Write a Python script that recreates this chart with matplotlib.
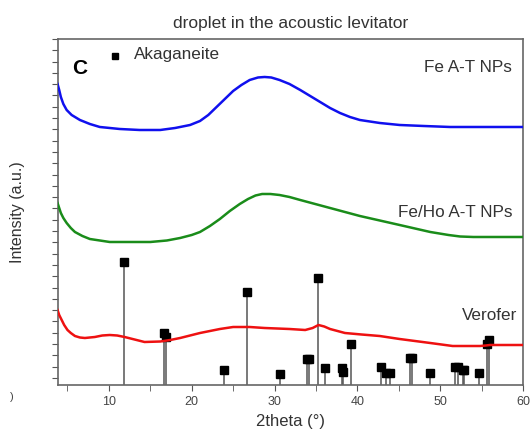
import numpy as np
import matplotlib
matplotlib.use("Agg")
import matplotlib.pyplot as plt

plt.rcParams["font.family"] = ["Liberation Sans", "DejaVu Sans"]

# courbes DRX (2theta, intensite en u.a.)
fe_x = [3.8, 4.0, 4.2, 4.5, 4.9, 5.5, 6.5, 7.7, 8.9, 10.1, 11.3, 13.7, 16.2, 18.0,
        19.8, 21.0, 22.0, 23.0, 24.0, 25.0, 26.0, 27.0, 28.0, 28.8, 29.6, 30.6,
        31.8, 33.1, 34.3, 35.5, 36.7, 37.9, 39.1, 40.3, 42.7, 45.1, 48.0, 51.2, 60.0]
fe_y = [301, 295, 288, 281, 275, 270, 265, 261, 258, 257, 256, 255, 255, 257,
        260, 264, 270, 278, 286, 294, 300, 305, 307.5, 308, 307.5, 305,
        301, 295, 289, 283, 277, 272, 268, 265, 262, 260, 259, 258, 258]

feho_x = [3.8, 4.0, 4.2, 4.5, 4.9, 5.4, 5.9, 6.8, 7.7, 10.1, 15.0, 17.0, 18.6, 20.0,
          21.0, 22.2, 23.4, 24.6, 25.8, 26.8, 27.7, 28.5, 29.5, 30.6, 31.8, 33.1,
          36.7, 40.3, 45.1, 48.8, 51.0, 52.4, 54.0, 60.0]
feho_y = [182, 177, 172, 167, 162, 157, 153, 149, 146, 143, 143, 144.5, 147, 150,
          153, 159, 166, 174, 181, 186, 189.5, 191, 191, 190, 188, 185,
          177, 169, 160, 153, 150, 148.5, 148, 148]

vero_x = [3.8, 4.0, 4.3, 4.6, 5.0, 5.4, 5.9, 6.5, 7.1, 8.3, 9.2, 10.1, 11.0, 11.9,
          13.1, 14.3, 16.2, 17.4, 18.6, 19.8, 21.0, 22.2, 23.4, 25.0, 27.0, 28.8,
          31.8, 33.7, 34.6, 35.3, 36.0, 36.7, 37.6, 38.5, 40.5, 42.7, 45.1, 48.8,
          51.5, 54.8, 55.5, 56.0, 60.0]
vero_y = [75, 70, 65, 60, 55, 52, 49, 47.5, 47, 48, 49.5, 50, 49.5, 48,
          45.5, 43, 43.5, 45, 47, 49.5, 52, 54, 56, 58, 58, 57,
          56, 55, 57, 60, 58.5, 56, 54, 52, 50.5, 49, 46, 42,
          39, 39, 39.5, 40, 40]

# pics de reference akaganeite
aka_pos = [11.8, 16.6, 16.9, 23.9, 26.7, 30.7, 33.9, 34.2, 35.2, 36.1, 38.1, 38.3,
           39.2, 42.9, 43.5, 43.9, 46.4, 46.6, 48.8, 51.8, 52.2, 52.7, 52.9,
           54.7, 55.7, 55.9]
aka_int = [123, 52, 48, 15, 93, 11, 26, 26, 107, 17, 17, 13,
           41, 18, 12, 12, 27, 27, 12, 18, 18, 15, 15,
           12, 41, 45]

fig = plt.figure(figsize=(5.31, 4.38), dpi=100)
ax = fig.add_axes([0.109, 0.121, 0.876, 0.790])

for x, h in zip(aka_pos, aka_int):
    ax.plot([x, x], [0, h], color="#555555", lw=1.1, zorder=2)
ax.plot(aka_pos, aka_int, "s", color="black", ms=6, zorder=3, linestyle="none")

ax.plot(fe_x, fe_y, color="#1010ee", lw=1.8, zorder=4)
ax.plot(feho_x, feho_y, color="#1a8c1a", lw=1.8, zorder=4)
ax.plot(vero_x, vero_y, color="#ee1111", lw=1.8, zorder=4)

ax.set_xlim(3.84, 60)
ax.set_ylim(0, 346)
ax.set_xticks([10, 20, 30, 40, 50, 60])
ax.set_xticks(np.arange(5, 60, 10), minor=True)
ax.set_yticks(np.arange(346, 0, -11.3))
ax.tick_params(axis="x", which="both", direction="out", length=4, color="#555555",
               labelsize=9, labelcolor="#444444", pad=4)
ax.tick_params(axis="y", direction="out", length=4, color="#555555", labelleft=False)
for s in ax.spines.values():
    s.set_color("#666666")
    s.set_linewidth(1.2)

ax.set_xlabel("2theta (°)", fontsize=12, color="#333333", labelpad=4)
ax.set_ylabel("Intensity (a.u.)", fontsize=11.5, color="#333333", labelpad=20)
ax.set_title("droplet in the acoustic levitator", fontsize=12.5, color="#333333", pad=8)

ax.text(5.5, 316, "C", fontsize=15, fontweight="bold", va="center")
ax.plot([10.7], [329], "s", color="black", ms=5)
ax.text(13.0, 330, "Akaganeite", fontsize=12.3, color="#333333", va="center")
ax.text(53.4, 317, "Fe A-T NPs", fontsize=12.3, color="#333333", va="center", ha="center")
ax.text(51.8, 172, "Fe/Ho A-T NPs", fontsize=12.3, color="#333333", va="center", ha="center")
ax.text(56.0, 69, "Verofer", fontsize=12.3, color="#333333", va="center", ha="center")

fig.text(0.018, 0.093, ")", fontsize=8, color="#444444", va="center")

fig.savefig("out.png", dpi=100)
